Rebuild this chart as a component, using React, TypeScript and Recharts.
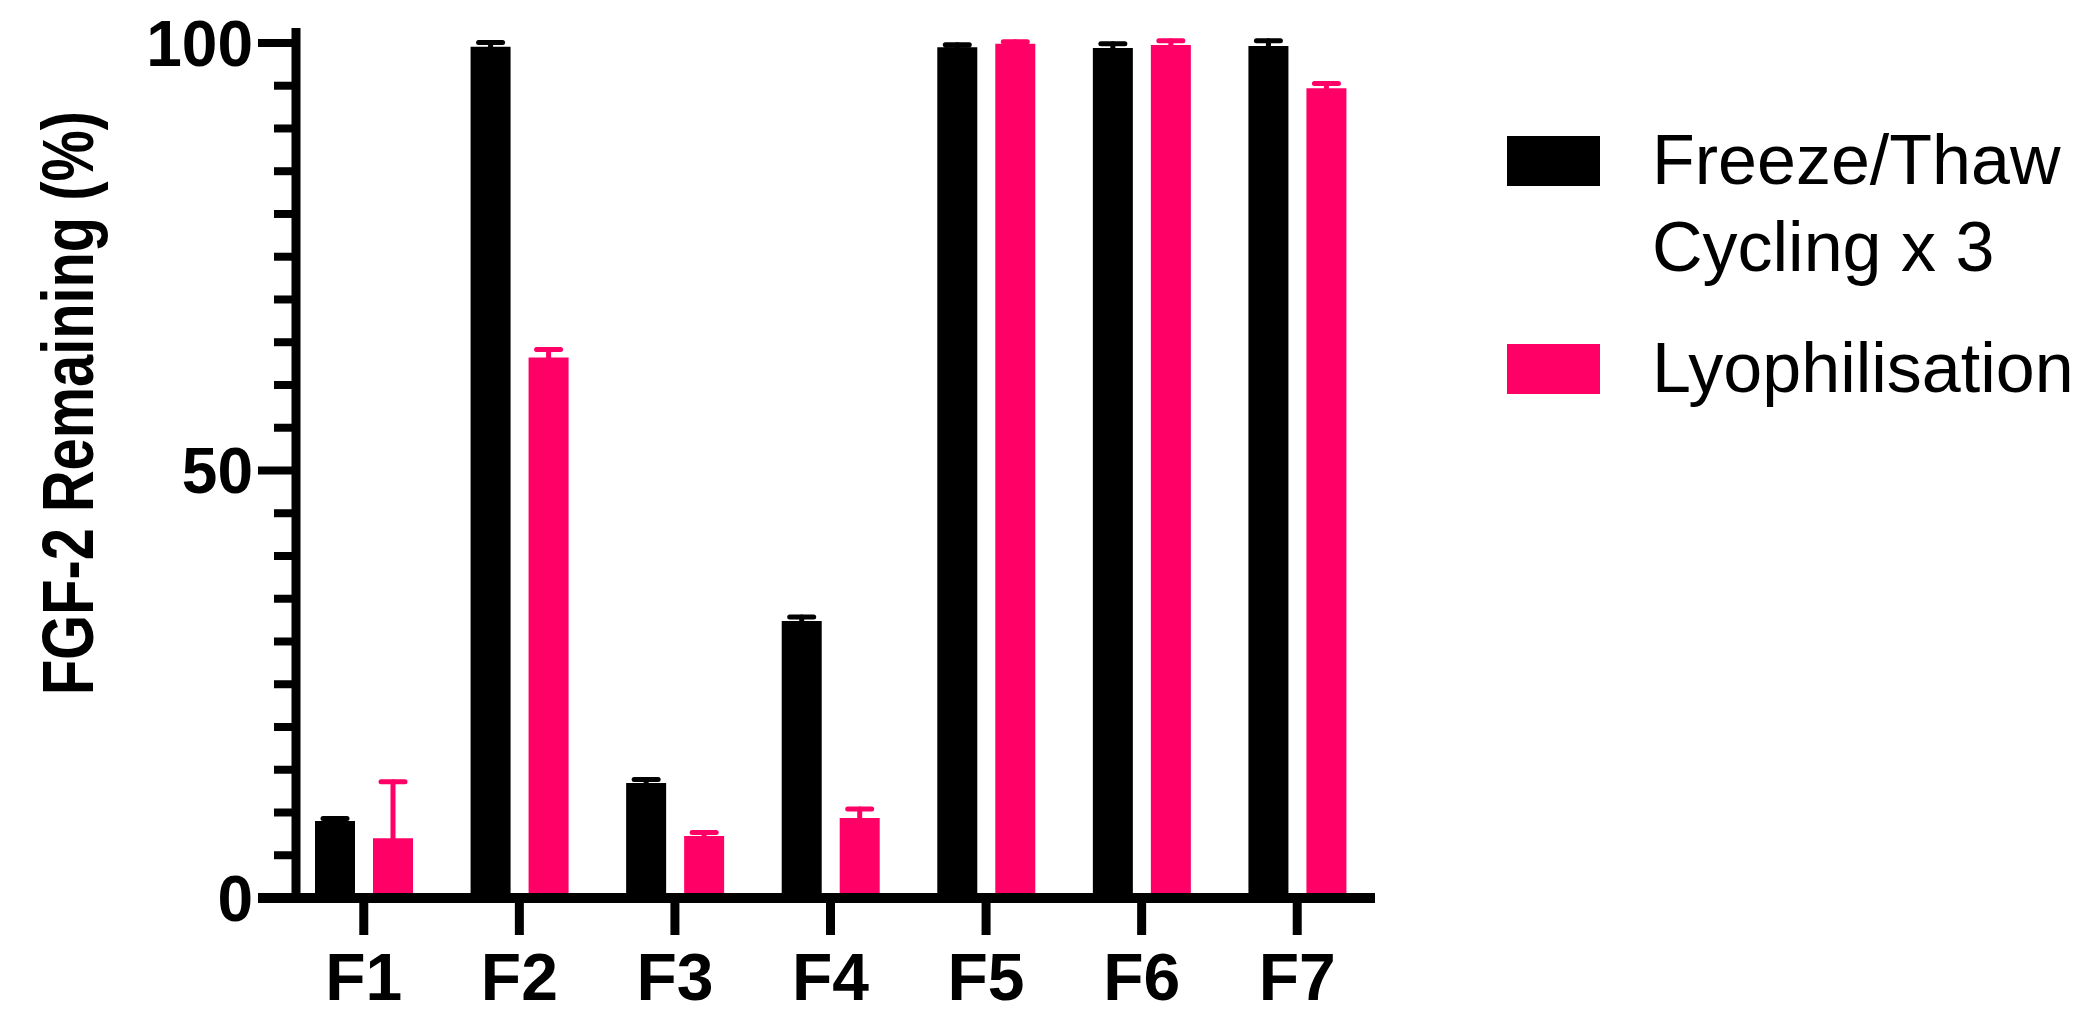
import { BarChart, Bar, XAxis, YAxis, ErrorBar, Legend } from "recharts"

const categories = ["F1", "F2", "F3", "F4", "F5", "F6", "F7"]
const freezeThaw = [9.0, 99.55, 13.45, 32.4, 99.5, 99.4, 99.65]
const freezeThawErr = [0.3, 0.5, 0.4, 0.45, 0.3, 0.5, 0.6]
const lyophilisation = [7.0, 63.2, 7.25, 9.36, 99.9, 99.77, 94.7]
const lyophilisationErr = [6.6, 0.95, 0.4, 1.05, 0.25, 0.5, 0.55]
const yTicks = [0, 5, 10, 15, 20, 25, 30, 35, 40, 45, 50, 55, 60, 65, 70, 75, 80, 85, 90, 95, 100]
const yLabels = [0, 50, 100]

const BLACK = "#000000"
const PINK = "#FF0066"
const FONT = '"Liberation Sans", Arial, sans-serif'

const data = categories.map((name, i) => ({
  name,
  ft: freezeThaw[i],
  ftErr: freezeThawErr[i],
  lyo: lyophilisation[i],
  lyoErr: lyophilisationErr[i],
}))

function YTick(props: any) {
  const { x, y, payload } = props
  const v = payload.value
  const major = yLabels.includes(v)
  return (
    <g>
      <line
        x1={x}
        x2={x - (major ? 38 : 22)}
        y1={y}
        y2={y}
        stroke={BLACK}
        strokeWidth={v === 0 ? 10 : 8}
      />
      {major && (
        <text
          x={x - 43}
          y={y}
          dy="0.355em"
          textAnchor="end"
          fontFamily={FONT}
          fontWeight="bold"
          fontSize={64}
          fill={BLACK}
        >
          {v}
        </text>
      )}
    </g>
  )
}

function YTitle() {
  return (
    <text
      x={93}
      y={403}
      transform="rotate(-90 93 403)"
      textAnchor="middle"
      fontFamily={FONT}
      fontWeight="bold"
      fontSize={72}
      fill={BLACK}
      textLength={584}
      lengthAdjust="spacingAndGlyphs"
    >
      FGF-2 Remaining (%)
    </text>
  )
}

function LegendBox(props: any) {
  const { payload } = props
  return (
    <div style={{ position: "relative", width: 575, height: 300, fontFamily: FONT }}>
      {(payload || []).map((entry: any, i: number) => (
        <div key={entry.value} style={{ position: "absolute", left: 0, top: i * 208, width: 575 }}>
          <div
            style={{
              position: "absolute",
              left: 0,
              top: 19,
              width: 93,
              height: 50,
              background: entry.color,
            }}
          />
          <div
            style={{
              position: "absolute",
              left: 145,
              top: 0,
              width: 435,
              fontSize: 70,
              lineHeight: "87px",
              color: BLACK,
              whiteSpace: "normal",
            }}
          >
            {entry.value}
          </div>
        </div>
      ))}
    </div>
  )
}

export default function App() {
  return (
    <div style={{ position: "absolute", left: 0, top: 0, background: "#fff" }}>
      <BarChart
        width={2082}
        height={1025}
        data={data}
        margin={{ top: 28, right: 707, bottom: 0, left: 0 }}
        barGap={18}
      >
        <XAxis
          dataKey="name"
          height={127}
          padding={{ left: -10, right: 0 }}
          axisLine={{ stroke: BLACK, strokeWidth: 10 }}
          tickLine={{ stroke: BLACK, strokeWidth: 9 }}
          tickSize={37}
          tickMargin={18}
          interval={0}
          tick={{ fill: BLACK, fontSize: 66, fontWeight: "bold", fontFamily: FONT }}
        />
        <YAxis
          width={296}
          domain={[0, 101.75]}
          ticks={yTicks}
          interval={0}
          axisLine={{ stroke: BLACK, strokeWidth: 9 }}
          tickLine={false}
          tickSize={0}
          tickMargin={0}
          tick={<YTick />}
          label={<YTitle />}
        />
        <Legend
          layout="vertical"
          align="center"
          verticalAlign="middle"
          content={<LegendBox />}
          wrapperStyle={{ left: 1507, top: 117, width: 575, height: 300 }}
        />
        <Bar dataKey="ft" name="Freeze/Thaw Cycling x 3" fill={BLACK} barSize={40} isAnimationActive={false}>
          <ErrorBar
            dataKey="ftErr"
            width={12}
            strokeWidth={5}
            stroke={BLACK}
            strokeLinecap="round"
            isAnimationActive={false}
          />
        </Bar>
        <Bar dataKey="lyo" name="Lyophilisation" fill={PINK} barSize={40} isAnimationActive={false}>
          <ErrorBar
            dataKey="lyoErr"
            width={12}
            strokeWidth={5}
            stroke={PINK}
            strokeLinecap="round"
            isAnimationActive={false}
          />
        </Bar>
      </BarChart>
    </div>
  )
}
